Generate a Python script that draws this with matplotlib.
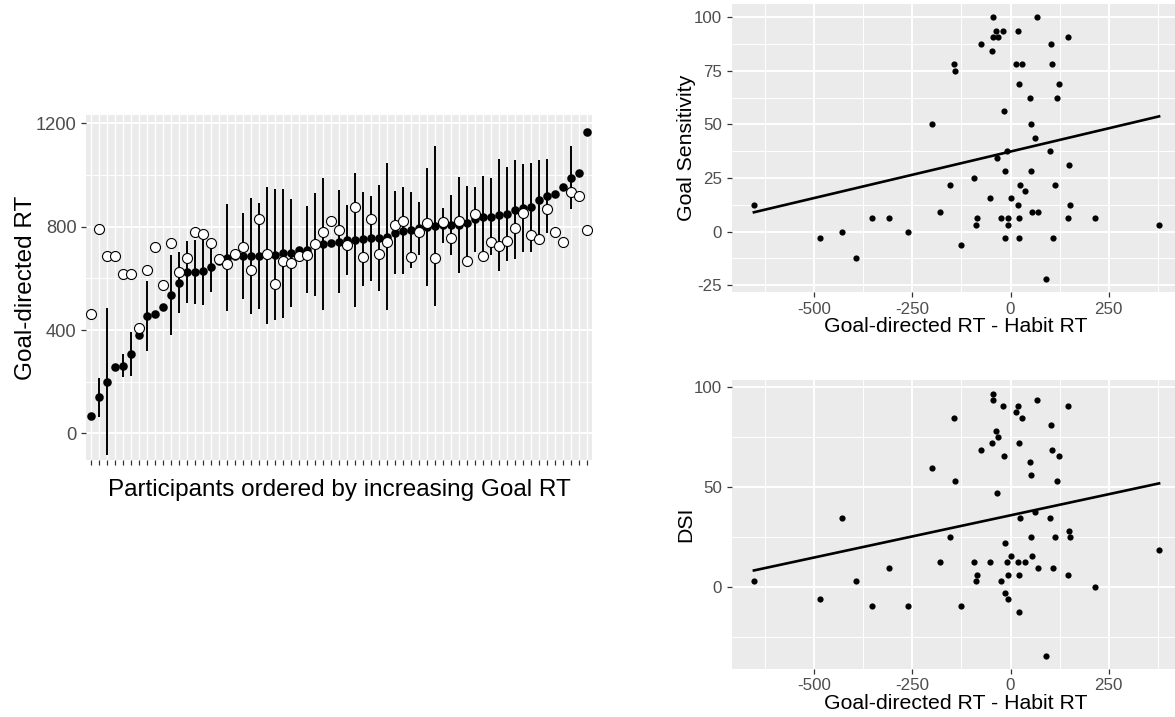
import matplotlib
matplotlib.use("Agg")
import matplotlib.pyplot as plt
from matplotlib.ticker import FixedLocator
import numpy as np

# per participant, ordered by increasing goal-directed RT
goal_rt = np.array([68, 139, 200, 257, 262, 307, 382, 454, 461, 488, 537, 582, 625, 625, 627, 645,
                    668, 680, 686, 686, 686, 686, 689, 692, 697, 699, 710, 710, 731, 733, 735, 742,
                    748, 748, 751, 755, 757, 761, 777, 785, 787, 794, 799, 803, 806, 806, 806, 813,
                    828, 836, 839, 844, 849, 865, 871, 875, 903, 919, 926, 955, 990, 1009, 1165])
habit_rt = np.array([462, 792, 686, 686, 615, 615, 406, 634, 723, 574, 738, 626, 677, 779, 770, 738,
                     675, 655, 694, 721, 634, 828, 696, 578, 668, 661, 688, 689, 731, 779, 822, 786,
                     730, 875, 683, 831, 695, 739, 808, 821, 681, 779, 813, 679, 819, 756, 822, 667,
                     848, 686, 739, 726, 745, 795, 852, 768, 751, 868, 779, 739, 935, 919, 787])
goal_err = np.array([0, 75, 285, 0, 44, 86, 0, 135, 0, 0, 155, 118, 120, 123, 132, 99,
                     0, 206, 0, 165, 225, 204, 266, 254, 250, 209, 0, 168, 200, 255, 0, 200,
                     136, 259, 182, 164, 206, 284, 162, 167, 147, 102, 229, 309, 68, 116, 187, 144,
                     126, 161, 148, 216, 183, 191, 171, 173, 153, 144, 0, 0, 121, 0, 0])
goal_sens = np.array([-12.5, 12.5, -3.125, 0, 6.25, 6.25, 6.25, 9.375, 0, 6.25, 50, 100, 15.625, 21.875, 78.125, 25,
                      6.25, 21.875, 37.5, 34.375, 50, 75, 3.125, 21.875, 78.125, 18.75, -3.125, 6.25, 15.625, 84.375, 3.125, 90.625,
                      12.5, -6.25, 100, 87.5, 43.75, 68.75, 90.625, 93.75, 78.125, 78.125, -3.125, 68.75, 28.125, 62.5, 56.25, 6.25,
                      93.75, 31.25, 37.5, 62.5, 87.5, 9.375, 93.75, -3.125, 12.5, 28.125, 90.625, 6.25, 9.375, -21.875, 3.125])
dsi = np.array([3.125, 3.125, -6.25, 34.375, -9.375, 9.375, 3.125, 12.5, -9.375, 6.25, 59.375, 96.875, 12.5, 25, 84.375, 12.5,
                6.25, 34.375, 12.5, 46.875, 56.25, 53.125, -6.25, 25, 84.375, 12.5, -12.5, 6.25, 15.625, 71.875, 3.125, 93.75,
                12.5, -9.375, 93.75, 68.75, 37.5, 71.875, 75, 78.125, 68.75, 87.5, -3.125, 65.625, 21.875, 62.5, 65.625, 6.25,
                90.625, 28.125, 34.375, 53.125, 81.25, 9.375, 90.625, 9.375, 25, 25, 90.625, 0, 15.625, -34.375, 18.75])

rt_diff = goal_rt - habit_rt
participants = np.arange(len(goal_rt))

plt.rcParams['font.family'] = ['Liberation Sans', 'DejaVu Sans']
plt.rcParams['axes.unicode_minus'] = False

W, H = 1175, 717
fig = plt.figure(figsize=(W / 100, H / 100), dpi=100, facecolor='white')


def add_panel(left, top, right, bottom):
    # place an axes by its pixel box, ggplot grey look
    ax = fig.add_axes([left / W, 1 - bottom / H, (right - left) / W, (bottom - top) / H])
    ax.set_facecolor('#EBEBEB')
    for s in ax.spines.values():
        s.set_visible(False)
    ax.grid(which='major', color='white', lw=1.4)
    ax.grid(which='minor', color='white', lw=0.7)
    ax.set_axisbelow(True)
    ax.tick_params(which='major', color='#333333', labelcolor='#4D4D4D', length=3.5, width=0.9)
    ax.tick_params(which='minor', length=0)
    return ax


# left: goal RT per participant with error bars, habit RT as open circles
ax1 = add_panel(86.2, 115, 591.5, 460)
ax1.vlines(participants, goal_rt - goal_err, goal_rt + goal_err, color='black', lw=1.4, zorder=2)
ax1.scatter(participants, goal_rt, s=38, color='black', lw=0, zorder=3)
ax1.scatter(participants, habit_rt, s=52, facecolor='white', edgecolor='black', lw=0.8, zorder=4)
ax1.set_xlim(-0.6, 62.6)
ax1.set_ylim(-103, 1232)
ax1.set_xticks(participants)
ax1.set_xticklabels([])
ax1.grid(axis='x', which='major', lw=1.0)
ax1.set_yticks([0, 400, 800, 1200])
ax1.yaxis.set_minor_locator(FixedLocator([200, 600, 1000]))
ax1.tick_params(axis='y', labelsize=13.2)
fig.text(339, H - 490, 'Participants ordered by increasing Goal RT', fontsize=17.5,
         ha='center', va='center', transform=None)
fig.text(26, H - 287.5, 'Goal-directed RT', fontsize=17.5, rotation=90,
         ha='center', va='center', transform=None)

# right: scatter with linear fit
panels = [
    (goal_sens, 'Goal Sensitivity', (4.2, 291.9), (-28.1, 106.1), [-25, 0, 25, 50, 75, 100],
     [-12.5, 12.5, 37.5, 62.5, 87.5]),
    (dsi, 'DSI', (380.1, 668.7), (-40.9, 103.6), [0, 50, 100], [-25, 25, 75]),
]
for yvals, ylabel, (top, bottom), ylim, yticks, yminor in panels:
    ax = add_panel(731.5, top, 1179.5, bottom)
    ax.scatter(rt_diff, yvals, s=20, color='black', lw=0, zorder=3)
    slope, icpt = np.polyfit(rt_diff, yvals, 1)
    xs = np.array([rt_diff.min(), rt_diff.max()])
    ax.plot(xs, icpt + slope * xs, color='black', lw=1.9, zorder=4)
    ax.set_xlim(-710, 430)
    ax.set_ylim(*ylim)
    ax.set_xticks([-500, -250, 0, 250])
    ax.xaxis.set_minor_locator(FixedLocator([-625, -375, -125, 125, 375]))
    ax.set_yticks(yticks)
    ax.yaxis.set_minor_locator(FixedLocator(yminor))
    ax.tick_params(labelsize=12.2)
    fig.text(955.5, H - (bottom + 35), 'Goal-directed RT - Habit RT', fontsize=15.3,
             ha='center', va='center', transform=None)
    fig.text(686, H - (top + bottom) / 2, ylabel, fontsize=15.3, rotation=90,
             ha='center', va='center', transform=None)

fig.savefig('out.png', dpi=100, facecolor='white')
